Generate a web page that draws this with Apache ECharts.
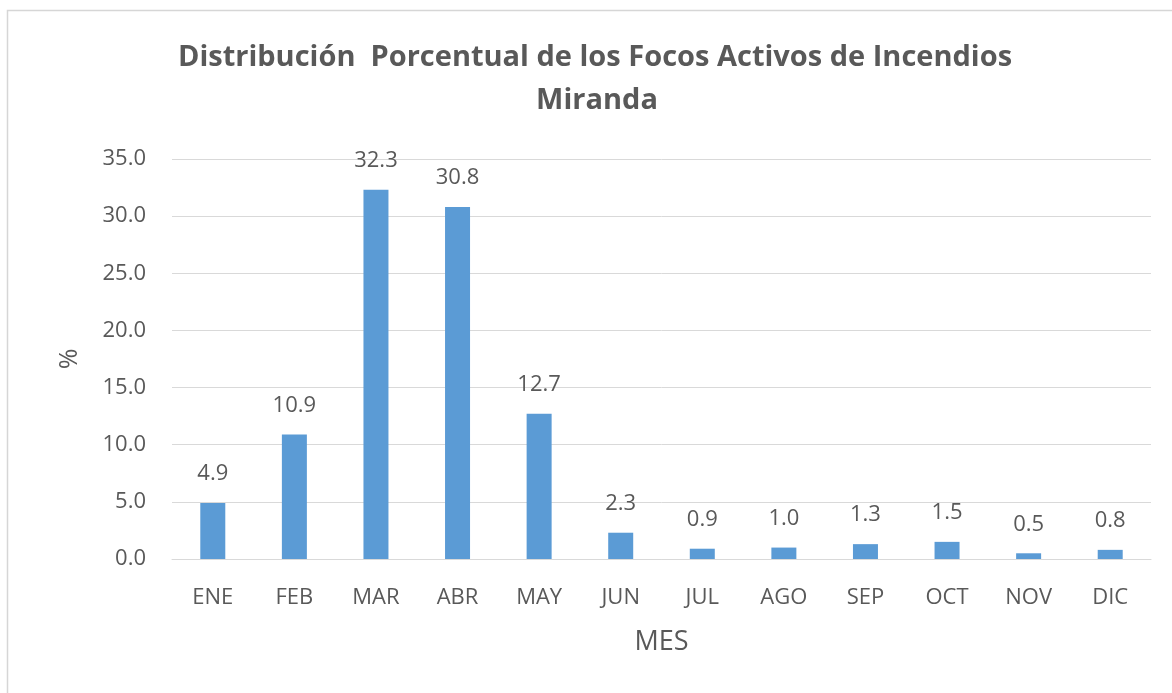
<!DOCTYPE html>
<html>
<head>
<meta charset="utf-8">
<script src="https://cdn.jsdelivr.net/npm/echarts@6/dist/echarts.min.js"></script>
<style>
  html, body { margin: 0; padding: 0; background: #ffffff; }
  #chart { width: 1172px; height: 693px; }
</style>
</head>
<body>
<div id="chart"></div>
<script>
const months = ["ENE", "FEB", "MAR", "ABR", "MAY", "JUN", "JUL", "AGO", "SEP", "OCT", "NOV", "DIC"]
const percent = [4.9, 10.9, 32.3, 30.8, 12.7, 2.3, 0.9, 1.0, 1.3, 1.5, 0.5, 0.8]
const titleLines = ["Distribución  Porcentual de los Focos Activos de Incendios", "Miranda"]

const textColor = "#595959"
const gridColor = "#d9d9d9"
const barColor = "#5b9bd5"
const font = "'Open Sans', 'DejaVu Sans', sans-serif"

const chart = echarts.init(document.getElementById("chart"))

chart.setOption({
  backgroundColor: "#ffffff",
  animation: false,
  textStyle: { fontFamily: font },

  graphic: [
    // outer chart border (runs off the right and bottom edges)
    {
      type: "rect",
      shape: { x: 7.5, y: 10.5, width: 1200, height: 720 },
      style: { fill: null, stroke: "#d6d6d6", lineWidth: 1.5 },
      silent: true
    },
    {
      type: "text",
      x: 595, y: 58,
      style: {
        text: titleLines[0],
        fill: textColor,
        font: "bold 29px " + font,
        align: "center",
        verticalAlign: "middle"
      }
    },
    {
      type: "text",
      x: 597, y: 101,
      style: {
        text: titleLines[1],
        fill: textColor,
        font: "bold 29px " + font,
        align: "center",
        verticalAlign: "middle"
      }
    }
  ],

  grid: {
    left: 172,
    right: 21,
    top: 159,
    bottom: 134
  },

  xAxis: {
    type: "category",
    data: months,
    name: "MES",
    nameLocation: "middle",
    nameGap: 70,
    nameTextStyle: { color: textColor, fontSize: 27 },
    axisLine: { lineStyle: { color: gridColor } },
    axisTick: { show: false },
    axisLabel: { color: textColor, fontSize: 22, margin: 28 }
  },

  yAxis: {
    type: "value",
    min: 0,
    max: 35,
    interval: 5,
    name: "%",
    nameLocation: "middle",
    nameGap: 90,
    nameTextStyle: { color: textColor, fontSize: 25 },
    axisLine: { show: false },
    axisTick: { show: false },
    axisLabel: {
      color: textColor,
      fontSize: 22,
      margin: 26,
      formatter: v => v.toFixed(1)
    },
    splitLine: { lineStyle: { color: gridColor } }
  },

  series: [
    {
      type: "bar",
      data: percent,
      barWidth: 25,
      itemStyle: { color: barColor },
      label: {
        show: true,
        position: "top",
        distance: 18,
        color: textColor,
        fontSize: 22,
        formatter: p => p.value.toFixed(1)
      }
    }
  ]
})
</script>
</body>
</html>
